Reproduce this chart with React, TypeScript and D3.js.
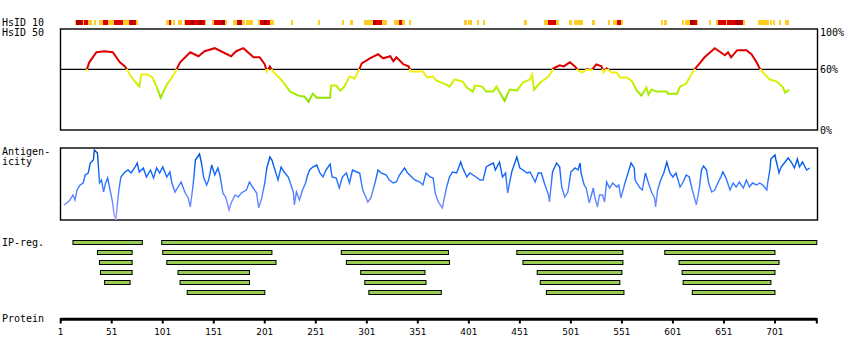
import React from "react";
import * as d3 from "d3";

// ---- data ----
const proteinLength = 742;
const tickResidues = [1, 51, 101, 151, 201, 251, 301, 351, 401, 451, 501, 551, 601, 651, 701];
const hsidPercentTicks = [100, 60, 0];

// HsID 10 segments: [start, end, level] level 1=orange, 2=red, 3=dark red
const hsid10Segments: [number, number, number][] = [
  [15, 16, 1], [16, 22, 3], [22, 23, 2], [23, 24, 1], [24, 28, 2], [28, 32, 1],
  [34, 36, 1],
  [39, 42, 1], [42, 47, 2], [47, 53, 1], [53, 62, 2], [62, 68, 1], [68, 70, 2], [70, 72, 3], [72, 75, 2], [75, 77, 1],
  [104, 107, 1], [107, 109, 2], [109, 110, 1],
  [111, 113, 1],
  [116, 120, 1],
  [122, 123, 1], [123, 129, 2], [129, 132, 3], [132, 137, 2], [137, 139, 3], [139, 142, 2], [142, 143, 1],
  [149, 151, 1], [151, 158, 2], [158, 162, 3], [162, 164, 1],
  [170, 174, 1], [174, 176, 2], [176, 178, 3], [178, 179, 2], [179, 182, 1],
  [183, 189, 1],
  [194, 196, 1], [196, 200, 2], [200, 203, 3], [203, 206, 2], [206, 210, 1],
  [227, 229, 1],
  [253, 255, 1],
  [277, 279, 1],
  [285, 287, 1],
  [298, 307, 1], [307, 310, 3], [310, 316, 2], [316, 321, 1],
  [328, 333, 1], [333, 335, 2], [335, 338, 1],
  [342, 344, 1],
  [396, 399, 1],
  [400, 404, 1],
  [409, 411, 1],
  [415, 417, 1],
  [455, 458, 1],
  [475, 479, 1], [479, 486, 2], [486, 489, 1],
  [499, 502, 1],
  [504, 513, 1],
  [522, 525, 1],
  [537, 539, 1],
  [542, 546, 1], [546, 550, 2], [550, 552, 1],
  [589, 591, 1],
  [592, 595, 1],
  [610, 612, 1],
  [613, 618, 1], [618, 622, 3], [622, 625, 2], [625, 626, 1],
  [636, 638, 1],
  [643, 645, 1], [645, 653, 2], [653, 654, 1], [654, 662, 2], [662, 668, 3], [668, 670, 2], [670, 672, 1],
  [684, 695, 1],
  [696, 698, 1],
  [699, 701, 1],
  [705, 707, 1],
  [711, 715, 1],
];

// HsID 50 curve: [residue, percent]
const hsid50: [number, number][] = [
  [26, 58], [29, 67], [36, 77], [44, 78], [52, 77], [59, 67], [64, 63], [67, 58], [72, 50], [78, 43],
  [80, 55], [86, 55], [91, 52], [95, 43], [99, 32], [105, 45], [110, 52], [114, 59], [118, 67], [128, 77],
  [136, 73], [142, 78], [152, 81], [160, 77], [168, 73], [173, 78], [180, 81], [190, 72], [196, 72], [201, 65],
  [203, 58], [206, 63], [209, 58], [217, 50], [226, 38], [234, 34], [240, 33], [244, 28], [248, 36], [252, 32],
  [265, 32], [266, 44], [271, 44], [275, 39], [279, 43], [284, 53], [289, 51], [294, 61], [296, 66], [304, 71],
  [312, 75], [317, 71], [324, 73], [327, 68], [330, 72], [337, 65], [342, 63], [344, 58], [348, 58], [356, 58],
  [360, 52], [366, 53], [369, 49], [379, 45], [382, 43], [387, 50], [395, 48], [399, 42], [405, 38], [407, 44],
  [414, 43], [418, 38], [425, 38], [428, 43], [436, 29], [441, 40], [448, 39], [454, 47], [461, 50], [463, 55],
  [465, 40], [471, 47], [479, 53], [484, 61], [490, 64], [494, 63], [500, 67], [505, 63], [508, 59], [512, 57],
  [517, 60], [521, 59], [526, 65], [531, 63], [533, 57], [536, 61], [541, 57], [546, 57], [549, 52], [556, 52],
  [561, 48], [565, 40], [570, 34], [575, 42], [577, 35], [580, 40], [585, 38], [595, 38], [596, 36], [605, 36],
  [608, 43], [614, 46], [619, 55], [623, 61], [628, 67], [632, 72], [642, 81], [652, 74], [655, 77], [658, 72],
  [664, 79], [673, 79], [678, 75], [683, 67], [686, 61], [691, 55], [696, 50], [703, 48], [709, 42], [711, 37],
  [715, 40],
];

// Antigenicity: [residue, score]
const antigenicity: [number, number][] = [
  [4, 15], [7, 17], [10, 20], [13, 25], [15, 20], [17, 30], [20, 35], [23, 37], [25, 45], [28, 47],
  [30, 57], [33, 60], [34, 70], [37, 67], [38, 53], [39, 37], [41, 40], [43, 28], [45, 37], [47, 42],
  [49, 32], [52, 17], [53, 7], [55, 0], [56, 10], [58, 30], [60, 43], [64, 48], [67, 50], [70, 47],
  [74, 53], [76, 57], [78, 48], [82, 52], [85, 43], [89, 50], [92, 42], [95, 52], [98, 47], [101, 53],
  [105, 43], [108, 48], [110, 37], [113, 28], [116, 33], [119, 38], [123, 27], [126, 22], [128, 13], [131, 37],
  [133, 60], [137, 66], [139, 57], [141, 43], [144, 35], [146, 40], [149, 55], [152, 45], [155, 52], [157, 45],
  [160, 27], [163, 22], [166, 10], [168, 17], [172, 25], [175, 23], [178, 27], [183, 30], [186, 38], [189, 33],
  [193, 27], [195, 12], [198, 22], [201, 37], [203, 52], [206, 63], [208, 60], [211, 50], [214, 40], [217, 53],
  [220, 48], [224, 43], [225, 40], [229, 28], [230, 15], [232, 28], [235, 20], [238, 30], [241, 37], [243, 45],
  [245, 50], [248, 53], [252, 55], [255, 47], [258, 43], [261, 50], [265, 56], [267, 43], [271, 42], [274, 32],
  [277, 43], [281, 47], [284, 37], [287, 50], [291, 48], [294, 47], [297, 30], [300, 23], [302, 18], [305, 22],
  [309, 37], [312, 50], [315, 47], [320, 45], [323, 40], [327, 37], [330, 38], [333, 45], [338, 52], [341, 47],
  [345, 43], [348, 40], [353, 38], [356, 35], [359, 47], [363, 43], [366, 42], [368, 27], [371, 18], [375, 12],
  [377, 22], [379, 32], [382, 43], [385, 48], [389, 47], [393, 58], [395, 52], [399, 43], [402, 47], [405, 45],
  [408, 43], [412, 40], [415, 40], [418, 53], [421, 55], [425, 57], [427, 50], [431, 58], [434, 43], [437, 47],
  [439, 27], [443, 48], [448, 63], [451, 52], [454, 50], [458, 47], [461, 48], [466, 38], [469, 47], [472, 47],
  [475, 37], [479, 25], [480, 18], [483, 48], [487, 57], [490, 53], [492, 33], [495, 23], [498, 28], [501, 48],
  [505, 52], [508, 50], [510, 57], [511, 47], [514, 35], [516, 32], [519, 17], [523, 32], [524, 25], [527, 13],
  [529, 25], [532, 25], [534, 18], [536, 38], [539, 32], [542, 37], [546, 33], [548, 35], [550, 22], [554, 37],
  [557, 47], [560, 57], [563, 52], [564, 40], [568, 33], [571, 30], [574, 47], [577, 37], [580, 28], [583, 22],
  [584, 13], [586, 30], [589, 40], [592, 47], [595, 58], [598, 47], [601, 43], [604, 47], [608, 33], [611, 38],
  [614, 45], [617, 43], [620, 30], [624, 15], [627, 33], [629, 50], [631, 54], [634, 50], [636, 37], [639, 28],
  [642, 30], [645, 37], [648, 43], [650, 48], [653, 42], [657, 30], [660, 37], [663, 33], [666, 38], [670, 32],
  [673, 40], [676, 33], [679, 37], [683, 35], [686, 37], [689, 35], [693, 30], [694, 38], [696, 50], [697, 61],
  [701, 65], [702, 60], [705, 47], [707, 53], [711, 58], [714, 62], [717, 58], [720, 52], [723, 61], [725, 53],
  [728, 58], [732, 50], [735, 52],
];

// IP regions: [row, start, end]
const ipRegions: [number, number, number][] = [
  [0, 13, 81], [0, 100, 742],
  [1, 37, 71], [1, 101, 208], [1, 276, 381], [1, 448, 552], [1, 593, 701],
  [2, 39, 71], [2, 105, 212], [2, 281, 382], [2, 454, 552], [2, 607, 705],
  [3, 40, 71], [3, 116, 186], [3, 295, 358], [3, 468, 551], [3, 610, 701],
  [4, 44, 69], [4, 118, 186], [4, 299, 359], [4, 471, 549], [4, 611, 697],
  [5, 125, 201], [5, 303, 374], [5, 477, 553], [5, 620, 701],
];

const hsidLevelColors = ["", "#ffcc22", "#dd0000", "#aa0000"];

const monoFont = "'DejaVu Sans Mono', monospace";

export default function App() {
  const W = 850, H = 360;
  const x = d3.scaleLinear().domain([1, proteinLength]).range([60.7, 816.8]);
  const boxLeft = 60.5, boxRight = 817.5;

  const yH = d3.scaleLinear().domain([0, 100]).range([130, 29]);
  const yA = d3.scaleLinear().domain([0, 72]).range([220, 148]);

  const hsLine = d3.line<[number, number]>().x(d => x(d[0])).y(d => yH(d[1]));
  const agLine = d3.line<[number, number]>().x(d => x(d[0])).y(d => yA(d[1]));

  const hsStops: [number, string][] = [
    [100, "#dd0000"], [60, "#dd0000"], [60, "#ffee11"], [52, "#e4ee11"], [45, "#ccee00"],
    [38, "#a8ee00"], [30, "#8ee000"], [20, "#66bb00"], [0, "#449900"],
  ];
  const agStops: [number, string][] = [
    [72, "#0048b8"], [60, "#0058dd"], [48, "#1166ff"], [36, "#3377ff"], [24, "#5a84ff"],
    [12, "#7c8cff"], [0, "#b0a4ff"],
  ];

  const rowY = (r: number) => 240.5 + r * 10;

  return (
    <svg width={W} height={H} style={{ position: "absolute", left: 0, top: 0, background: "#fff" }}
      fontFamily={monoFont} fontSize={10}>
      <defs>
        <linearGradient id="hsGrad" gradientUnits="userSpaceOnUse" x1={0} x2={0} y1={yH(100)} y2={yH(0)}>
          {hsStops.map(([v, c], i) => (
            <stop key={i} offset={(100 - v) / 100} stopColor={c} />
          ))}
        </linearGradient>
        <linearGradient id="agGrad" gradientUnits="userSpaceOnUse" x1={0} x2={0} y1={yA(72)} y2={yA(0)}>
          {agStops.map(([v, c], i) => (
            <stop key={i} offset={(72 - v) / 72} stopColor={c} />
          ))}
        </linearGradient>
      </defs>

      {/* labels */}
      <text x={2} y={26}>HsID 10</text>
      <text x={2} y={36}>HsID 50</text>
      <text x={2} y={155}>Antigen-</text>
      <text x={2} y={165}>icity</text>
      <text x={2} y={246}>IP-reg.</text>
      <text x={2} y={322}>Protein</text>

      {/* HsID 10 bar */}
      <g shapeRendering="crispEdges">
        {hsid10Segments.map(([s, e, l], i) => (
          <rect key={i} x={x(s)} y={20} width={Math.max(1, x(e) - x(s))} height={5} fill={hsidLevelColors[l]} />
        ))}
      </g>

      {/* HsID 50 panel */}
      <rect x={boxLeft} y={yH(100)} width={boxRight - boxLeft} height={yH(0) - yH(100)} fill="none" stroke="#000" strokeWidth={1.4} />
      <line x1={boxLeft} x2={boxRight} y1={yH(60)} y2={yH(60)} stroke="#000" strokeWidth={1.4} />
      <path d={hsLine(hsid50) || ""} fill="none" stroke="url(#hsGrad)" strokeWidth={2} />
      {hsidPercentTicks.map(v => (
        <text key={v} x={820} y={yH(v) + (v === 100 ? 7 : 3.5)}>{v}%</text>
      ))}

      {/* Antigenicity panel */}
      <rect x={boxLeft} y={yA(72)} width={boxRight - boxLeft} height={yA(0) - yA(72)} fill="none" stroke="#000" strokeWidth={1.4} />
      <path d={agLine(antigenicity) || ""} fill="none" stroke="url(#agGrad)" strokeWidth={1.4} />

      {/* IP regions */}
      {ipRegions.map(([r, s, e], i) => (
        <rect key={i} x={x(s)} y={rowY(r)} width={x(e) - x(s)} height={4} fill="#99cc55" stroke="#000" strokeWidth={1} />
      ))}

      {/* Protein axis */}
      <line x1={x(1)} x2={x(proteinLength)} y1={319.2} y2={319.2} stroke="#000" strokeWidth={3} />
      {[...tickResidues, proteinLength].map((t, i) => (
        <line key={i} x1={x(t)} x2={x(t)} y1={318} y2={323.5} stroke="#000" strokeWidth={2} />
      ))}
      {tickResidues.map(t => (
        <text key={t} x={x(t)} y={335} textAnchor="middle" fontFamily="'DejaVu Sans', sans-serif" fontSize={9}>{t}</text>
      ))}
    </svg>
  );
}
